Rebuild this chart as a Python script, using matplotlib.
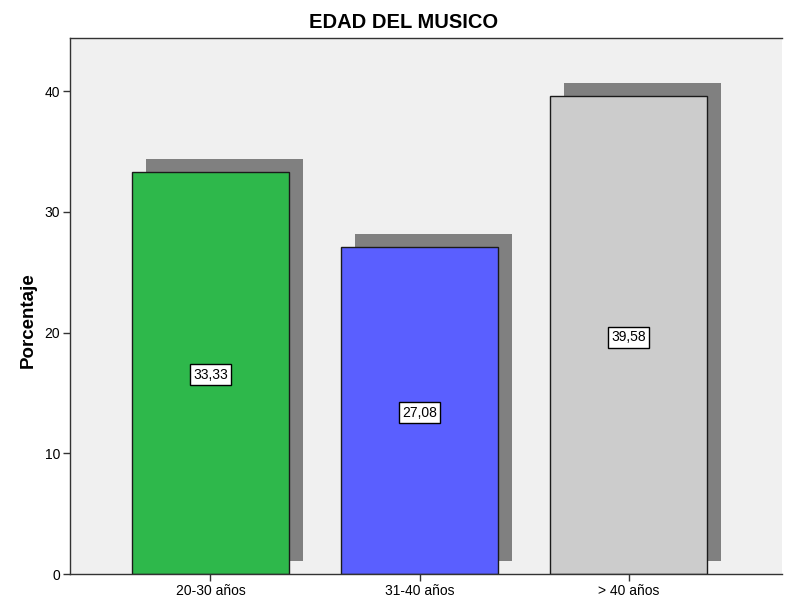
import matplotlib
matplotlib.use("Agg")
import matplotlib.pyplot as plt
from matplotlib.transforms import ScaledTranslation

categories = ["20-30 años", "31-40 años", "> 40 años"]
values = [33.33, 27.08, 39.58]
labels = ["33,33", "27,08", "39,58"]
colors = ["#2EB84B", "#5A5FFF", "#CCCCCC"]
yticks = [0, 10, 20, 30, 40]

plt.rcParams['font.family'] = ['Liberation Sans', 'DejaVu Sans']

fig = plt.figure(figsize=(7.95, 5.99), dpi=100)
ax = fig.add_axes([70/795, 25/599, 712/795, 536/599])
ax.set_facecolor("#F0F0F0")

x = list(range(len(categories)))
width = 0.75
# shadows offset in pixels
shadow_tr = ax.transData + ScaledTranslation(14/100, 13/100, fig.dpi_scale_trans)
for xi, v in zip(x, values):
    ax.bar(xi, v, width=width, color="#808080", edgecolor="none", zorder=1,
           transform=shadow_tr, bottom=0)
ax.bar(x, values, width=width, color=colors, edgecolor="#1a1a1a", linewidth=1.0, zorder=2)

label_tr = ax.transData + ScaledTranslation(0, -2/100, fig.dpi_scale_trans)
for xi, v, lab in zip(x, values, labels):
    ax.text(xi, v/2, lab, ha="center", va="center", fontsize=10, zorder=3,
            transform=label_tr,
            bbox=dict(boxstyle="square,pad=0.25", facecolor="white", edgecolor="black", linewidth=1.0))

ax.set_xlim(-0.672, 2.734)
ax.set_ylim(0, 44.4)
ax.set_xticks(x)
ax.set_xticklabels(categories, fontsize=10)
ax.set_yticks(yticks)
ax.set_yticklabels([str(t) for t in yticks], fontsize=10)
ax.tick_params(axis="both", direction="out", length=5, width=1, color="#333333", pad=2)

for s in ["left", "top", "bottom"]:
    ax.spines[s].set_color("#333333")
    ax.spines[s].set_linewidth(1)
ax.spines["right"].set_visible(False)

ax.set_ylabel("Porcentaje", fontsize=13.5, fontweight="bold")
ax.yaxis.set_label_coords(-0.046, 0.474)
fig.text(0.508, 0.963, "EDAD DEL MUSICO", ha="center", va="center", fontsize=14.5, fontweight="bold")

fig.savefig("out.png", dpi=100)
